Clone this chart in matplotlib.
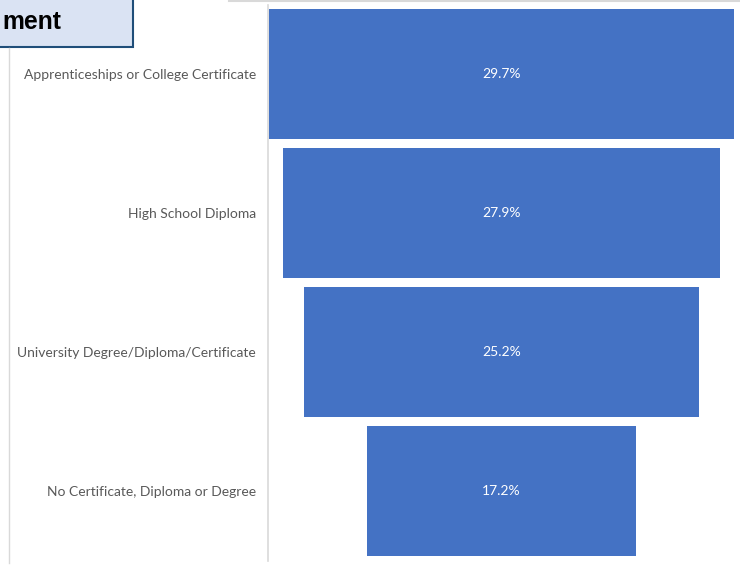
import numpy as np
import matplotlib.pyplot as plt
from matplotlib.patches import Rectangle
from matplotlib.lines import Line2D

categories = ['Apprenticeships or College Certificate', 'High School Diploma',
              'University Degree/Diploma/Certificate', 'No Certificate, Diploma or Degree']
values = [29.7, 27.9, 25.2, 17.2]
labels = ['29.7%', '27.9%', '25.2%', '17.2%']

W, H = 740, 566
fig = plt.figure(figsize=(W / 100, H / 100), dpi=100)

# plot area: axis line at x=268, bars from y=4.5 to 560.5 px
ax = fig.add_axes([268 / W, 1 - 560.5 / H, (740 - 268) / W, 556 / H])
pos = np.arange(len(categories))
vals = np.array(values)
ax.barh(pos, vals, left=-vals / 2, height=0.935, color='#4472c4')
for p, v, t in zip(pos, vals, labels):
    ax.text(0, p, t, ha='center', va='center', color='white', fontsize=10, family='Lato')
ax.set_ylim(len(categories) - 0.5, -0.5)
ax.set_xlim(-14.91, 15.23)
ax.set_yticks(pos)
ax.set_yticklabels(categories, family='Lato', fontsize=10, color='#595959')
ax.tick_params(axis='y', length=0, pad=8.5)
ax.set_xticks([])
for s in ['top', 'right', 'bottom']:
    ax.spines[s].set_visible(False)
ax.spines['left'].set_color('#d9d9d9')
ax.spines['left'].set_linewidth(1.2)

# outer frame pieces
fig.add_artist(Line2D([9 / W, 9 / W], [1 - 48 / H, 1 - 563 / H], color='#d9d9d9', lw=1))
fig.add_artist(Line2D([229 / W, 1], [1 - 0.8 / H, 1 - 0.8 / H], color='#d9d9d9', lw=1.5))

# title box (runs off the left edge)
fig.add_artist(Rectangle((-20 / W, 1 - 47 / H), 153 / W, 60 / H, facecolor='#dae3f3',
                         edgecolor='#1f4e79', lw=1.5))
fig.text(61 / W, 1 - 22 / H, 'ment', ha='right', va='center', fontsize=17.8,
         fontweight='bold', family='Liberation Sans', color='black')

fig.savefig('out.png', dpi=100)
